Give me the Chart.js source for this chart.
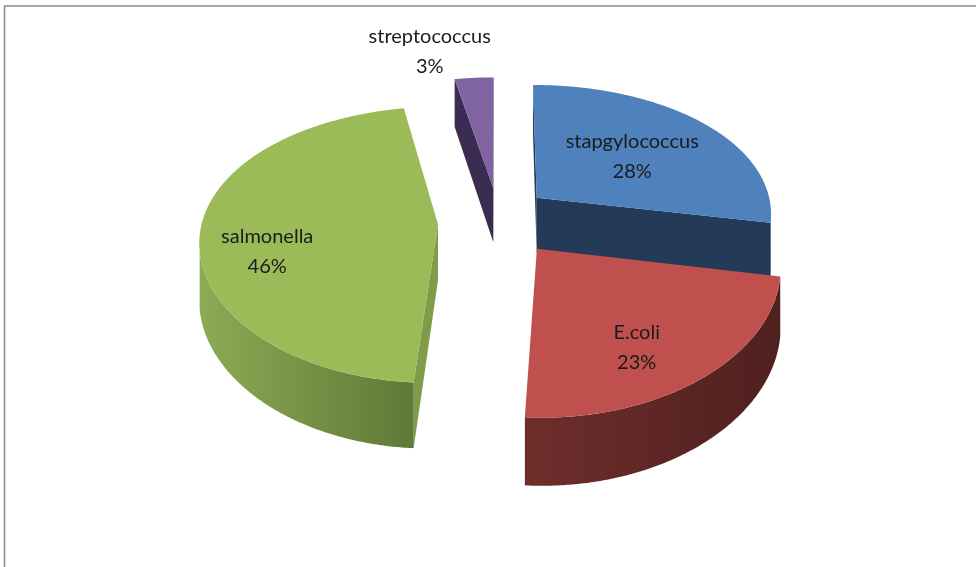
<!DOCTYPE html>
<html>
<head>
<meta charset="utf-8">
<script src="https://cdn.jsdelivr.net/npm/chart.js@4.4.1/dist/chart.umd.min.js"></script>
<style>
  html, body { margin: 0; padding: 0; background: #fff; }
</style>
</head>
<body>
<canvas id="chart" width="976" height="567"></canvas>
<script>
// data
const categories = ["stapgylococcus", "E.coli", "salmonella", "streptococcus"];
const values = [28, 23, 46, 3];

// looks
const topColors = ["#4f81bd", "#c0504d", "#9bbb59", "#8064a2"];
const faceColors = ["#233a58", "#5a2624", "#7f9d48", "#3b2d52"];
const wallColors = [["#2f4e74", "#24405f"], ["#6e2e2c", "#4f201e"], ["#8cab55", "#5f7936"], ["#4a3868", "#3b2d52"]];
const explode = [51, 62, 60, 51];
const lift = [0, 4, 6, 0];

// fake 3d camera
const VIEW = { dist: 1600, tilt: 0.57, depth: 56, xPersp: 0.75 };

function project(cx, cy, X, Y, z, dy) {
  const s = VIEW.dist / (VIEW.dist - Y);
  const sx = Math.pow(s, VIEW.xPersp);
  return [cx + X * sx, cy + dy + (VIEW.tilt * Y + z) * s];
}

function sliceGeom(arc, i) {
  const p = arc.getProps(["x", "y", "startAngle", "endAngle", "outerRadius"], true);
  const mid = (p.startAngle + p.endAngle) / 2;
  const d = arc.options.offset || 0;
  return {
    i, cx: p.x, cy: p.y, R: p.outerRadius,
    a1: p.startAngle, a2: p.endAngle, mid,
    ox: Math.cos(mid) * d, oy: Math.sin(mid) * d, dy: lift[i] || 0
  };
}

function drawSlice(ctx, sl) {
  const { cx, cy, R, a1, a2, ox, oy, dy, i } = sl;
  const D = VIEW.dist, H = VIEW.depth;
  const P = (a, r, z) => project(cx, cy, ox + Math.cos(a) * r, oy + Math.sin(a) * r, z, dy);
  const apexTop = project(cx, cy, ox, oy, 0, dy);
  const apexBot = project(cx, cy, ox, oy, H, dy);

  // the two cut faces
  [[a1, a1 - Math.PI / 2], [a2, a2 + Math.PI / 2]].forEach(([a, na]) => {
    const mx = ox + Math.cos(a) * R / 2, my = oy + Math.sin(a) * R / 2;
    const v = Math.cos(na) * (0 - mx) + Math.sin(na) * (D - my);
    if (v <= 0) return;
    const rt = P(a, R, 0), rb = P(a, R, H);
    ctx.beginPath();
    ctx.moveTo(apexTop[0], apexTop[1]);
    ctx.lineTo(rt[0], rt[1]);
    ctx.lineTo(rb[0], rb[1]);
    ctx.lineTo(apexBot[0], apexBot[1]);
    ctx.closePath();
    ctx.fillStyle = faceColors[i];
    ctx.fill();
  });

  // outer wall, only the part turned to the viewer
  const N = Math.max(8, Math.ceil((a2 - a1) / (Math.PI / 360)));
  const angs = [];
  for (let k = 0; k <= N; k++) angs.push(a1 + (a2 - a1) * k / N);
  let run = [];
  const runs = [];
  angs.forEach(a => {
    const v = -ox * Math.cos(a) + (D - oy) * Math.sin(a) - R;
    if (v > 0) run.push(a);
    else if (run.length) { runs.push(run); run = []; }
  });
  if (run.length) runs.push(run);
  runs.forEach(r => {
    if (r.length < 2) return;
    const top = r.map(a => P(a, R, 0));
    const bot = r.map(a => P(a, R, H)).reverse();
    const xs = top.map(q => q[0]);
    const x0 = Math.min(...xs), x1 = Math.max(...xs);
    const g = ctx.createLinearGradient(x0, 0, x1 + 0.01, 0);
    g.addColorStop(0, wallColors[i][0]);
    g.addColorStop(1, wallColors[i][1]);
    ctx.beginPath();
    ctx.moveTo(top[0][0], top[0][1]);
    top.forEach(q => ctx.lineTo(q[0], q[1]));
    bot.forEach(q => ctx.lineTo(q[0], q[1]));
    ctx.closePath();
    ctx.fillStyle = g;
    ctx.fill();
  });

  // top face
  ctx.beginPath();
  ctx.moveTo(apexTop[0], apexTop[1]);
  angs.forEach(a => { const q = P(a, R, 0); ctx.lineTo(q[0], q[1]); });
  ctx.closePath();
  ctx.fillStyle = topColors[i];
  ctx.fill();
}

const pie3d = {
  id: "pie3d",
  beforeDraw(chart) {
    const ctx = chart.ctx;
    ctx.save();
    ctx.strokeStyle = "#8c8c8c";
    ctx.lineWidth = 1.5;
    ctx.beginPath();
    ctx.moveTo(4.5, 567);
    ctx.lineTo(4.5, 6);
    ctx.lineTo(976, 6);
    ctx.stroke();
    ctx.restore();
  },
  beforeDatasetDraw(chart, args) {
    const ctx = chart.ctx;
    const slices = args.meta.data.map(sliceGeom);
    slices.sort((a, b) => a.oy - b.oy);
    ctx.save();
    slices.forEach(sl => drawSlice(ctx, sl));
    ctx.restore();
    return false;
  },
  afterDatasetsDraw(chart, args, opts) {
    const ctx = chart.ctx;
    const meta = chart.getDatasetMeta(0);
    const total = values.reduce((s, v) => s + v, 0);
    ctx.save();
    ctx.font = opts.font;
    ctx.fillStyle = opts.color;
    ctx.textAlign = "center";
    ctx.textBaseline = "middle";
    meta.data.forEach((arc, i) => {
      const sl = sliceGeom(arc, i);
      const lp = opts.place[i];
      const r = sl.R * lp.k;
      const q = project(sl.cx, sl.cy, sl.ox + Math.cos(sl.mid) * r, sl.oy + Math.sin(sl.mid) * r, 0, sl.dy);
      const x = q[0] + lp.dx, y = q[1] + lp.dy;
      ctx.fillText(categories[i], x, y - opts.lineGap / 2);
      ctx.fillText(Math.round(values[i] / total * 100) + "%", x, y + opts.lineGap / 2);
    });
    ctx.restore();
  }
};

const chart = new Chart(document.getElementById("chart"), {
  type: "pie",
  data: {
    labels: categories,
    datasets: [{
      data: values,
      backgroundColor: topColors,
      offset: explode,
      borderWidth: 0,
      radius: 236
    }]
  },
  options: {
    responsive: false,
    animation: false,
    events: [],
    layout: { padding: { left: 20, right: 0, top: 0, bottom: 135 } },
    plugins: {
      legend: { display: false },
      tooltip: { enabled: false },
      pie3d: {
        font: "20px Lato",
        color: "#1b1b1b",
        lineGap: 30,
        place: [
          { k: 0.55, dx: 2, dy: 2 },
          { k: 0.72, dx: -17, dy: 10 },
          { k: 0.74, dx: 5, dy: 21 },
          { k: 1.2, dx: -41, dy: -7 }
        ]
      }
    }
  },
  plugins: [pie3d]
});
</script>
</body>
</html>
